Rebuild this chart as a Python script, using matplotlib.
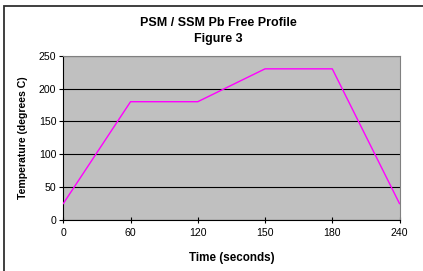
import matplotlib
matplotlib.use("Agg")
from matplotlib import pyplot as plt
from matplotlib.patches import Rectangle

# Reflow profile, time axis is a category axis (evenly spaced labels)
times = ["0", "60", "120", "150", "180", "240"]
temps = [25, 180, 180, 230, 230, 25]

plt.rcParams["font.family"] = ["Liberation Sans", "DejaVu Sans"]

W, H = 423, 271
fig = plt.figure(figsize=(W / 100, H / 100), dpi=100)
fig.patch.set_facecolor("white")

# plot area in pixel coords
x0, x1 = 63.3, 399.5
y_top, y_bot = 55.7, 220.0
ax = fig.add_axes([x0 / W, 1 - y_bot / H, (x1 - x0) / W, (y_bot - y_top) / H])
ax.set_facecolor("#C0C0C0")

pos = list(range(len(times)))
ax.plot(pos, temps, color="#FF00FF", linewidth=1.0, zorder=3)

ax.set_xlim(0, len(times) - 1)
ax.set_ylim(0, 250)
ax.set_xticks(pos)
ax.set_xticklabels(times)
ax.set_yticks([0, 50, 100, 150, 200, 250])
ax.yaxis.grid(True, color="black", linewidth=0.8)
ax.set_axisbelow(True)

for s in ["top", "right"]:
    ax.spines[s].set_color("#808080")
    ax.spines[s].set_linewidth(0.8)
for s in ["left", "bottom"]:
    ax.spines[s].set_color("black")
    ax.spines[s].set_linewidth(0.8)

ax.tick_params(axis="x", direction="inout", length=5, width=0.8, labelsize=7.6, pad=3)
ax.tick_params(axis="y", direction="out", length=3, width=0.8, labelsize=7.6, pad=2)

fig.text(218 / W, 1 - 23 / H, "PSM / SSM Pb Free Profile", ha="center", va="center",
         fontsize=9, fontweight="bold")
fig.text(218 / W, 1 - 39 / H, "Figure 3", ha="center", va="center",
         fontsize=9, fontweight="bold")
fig.text(232 / W, 1 - 258 / H, "Time (seconds)", ha="center", va="center",
         fontsize=8.4, fontweight="bold")
fig.text(22.5 / W, 1 - (y_top + y_bot) / 2 / H, "Temperature (degrees C)", ha="center",
         va="center", rotation=90, fontsize=7.6, fontweight="bold")

# chart area border (runs off the right/bottom edges)
fig.patches.append(Rectangle((4 / W, -0.1), 1.2, 1 - 6 / H + 0.1, transform=fig.transFigure,
                             fill=False, edgecolor="#303030", linewidth=1.3))

fig.savefig("out.png", dpi=100)
